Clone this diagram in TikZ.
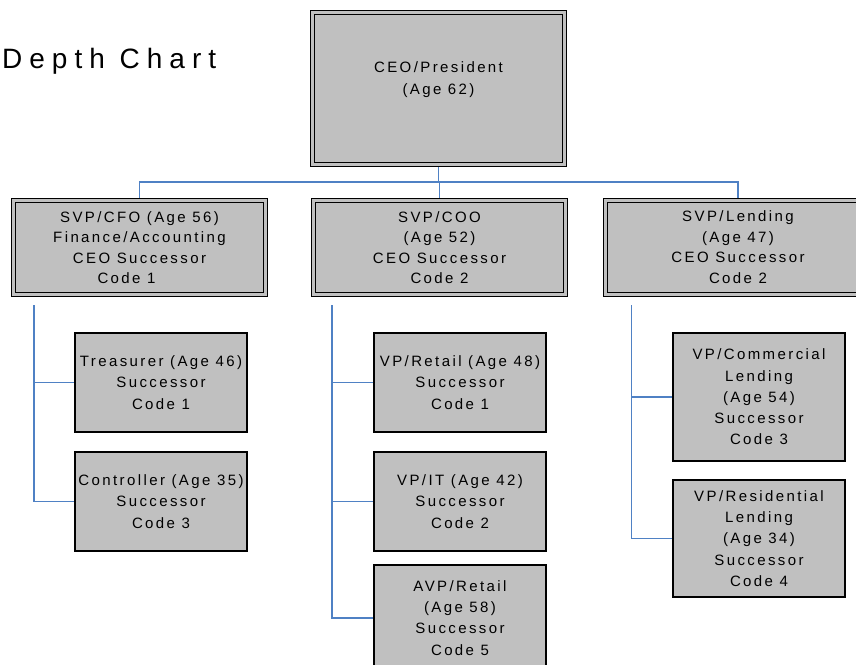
\documentclass[tikz,border=0pt]{standalone}
\usepackage{fontspec}
\setmainfont{Liberation Sans}
\newfontfamily\boxfont[LetterSpace=16]{Liberation Sans}
\newfontfamily\titlefont[LetterSpace=25]{Liberation Sans}
\usetikzlibrary{backgrounds}
\definecolor{boxgray}{RGB}{192,192,192}
\definecolor{connblue}{RGB}{79,129,196}
\tikzset{
  txt/.style={font=\boxfont\fontsize{15}{20.5}\selectfont, align=center, inner sep=0pt},
  topbox/.style={txt, draw=black, fill=boxgray, line width=1pt, double=boxgray, double distance=3pt, inner sep=0pt},
  subbox/.style={txt, draw=black, fill=boxgray, line width=1.1pt, inner sep=0pt, font=\boxfont\fontsize{15}{21.2}\selectfont},
  conn/.style={draw=connblue, line width=1.4pt}
}
\begin{document}
\begin{tikzpicture}[x=1pt,y=-1pt]
\useasboundingbox (0,0) rectangle (856,664);
\clip (0,0) rectangle (856,664);
% title
\node[font=\titlefont\fontsize{28}{30}\selectfont, anchor=base west, inner sep=0pt] (title) at (2,68) {Depth Chart};
% top
\node[topbox, minimum width=252pt, minimum height=152pt] (ceo) at (438.5,88.5) {};
\node[txt, font=\boxfont\fontsize{15}{22}\selectfont] (ceot) at (438.5,80) {CEO/President\\(Age 62)};
% level 2
\node[topbox, minimum width=252pt, minimum height=94pt] (cfo) at (139.5,247.5) {SVP/CFO (Age 56)\\Finance/Accounting\\CEO Successor\\Code 1\hspace*{26pt}};
\node[topbox, minimum width=252pt, minimum height=94pt] (coo) at (439.5,247.5) {SVP/COO\\(Age 52)\\CEO Successor\\Code 2};
\node[topbox, minimum width=265pt, minimum height=94pt] (lend) at (738,247) {SVP/Lending\\(Age 47)\\CEO Successor\\Code 2};
% level 3
\node[subbox, minimum width=172pt, minimum height=99pt] (tre) at (161,382.5) {Treasurer (Age 46)\\Successor\\Code 1};
\node[subbox, minimum width=172pt, minimum height=99pt] (ctl) at (161,501.5) {Controller (Age 35)\\Successor\\Code 3};
\node[subbox, minimum width=172pt, minimum height=99pt] (vpr) at (460,382.5) {VP/Retail (Age 48)\\Successor\\Code 1};
\node[subbox, minimum width=172pt, minimum height=99pt] (vpit) at (460,501.5) {VP/IT (Age 42)\\Successor\\Code 2};
\node[subbox, minimum width=172pt, minimum height=106pt] (avp) at (460,618) {AVP/Retail\\(Age 58)\\Successor\\Code 5};
\node[subbox, minimum width=172pt, minimum height=128pt] (com) at (759,397) {VP/Commercial\\Lending\\(Age 54)\\Successor\\Code 3};
\node[subbox, minimum width=172pt, minimum height=117pt] (res) at (759,538.5) {VP/Residential\\Lending\\(Age 34)\\Successor\\Code 4};
% connector anchors
\coordinate (bus) at (438.5,182);
\coordinate (l1) at (34,305);
\coordinate (m1) at (332,305);
\coordinate (r1) at (631.5,305);
\begin{scope}[on background layer]
\draw[conn] (ceo.south) -- (bus);
\draw[conn] (cfo.north) |- (bus) -| (lend.north);
\draw[conn] (coo.north) -- (coo.north |- bus);
\end{scope}
\draw[conn] (l1) |- (ctl.west);
\draw[conn] (l1 |- tre.west) -- (tre.west);
\draw[conn] (m1) |- (avp.west);
\draw[conn] (m1 |- vpr.west) -- (vpr.west);
\draw[conn] (m1 |- vpit.west) -- (vpit.west);
\draw[conn] (r1) |- (res.west);
\draw[conn] (r1 |- com.west) -- (com.west);
\end{tikzpicture}
\end{document}
